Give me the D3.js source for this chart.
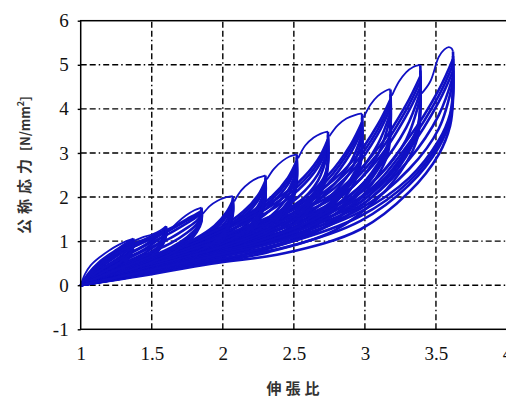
<!DOCTYPE html>
<html>
<head>
<meta charset="utf-8">
<script src="https://cdn.jsdelivr.net/npm/d3@7"></script>
<style>
  body { margin: 0; background: #fff; }
  svg { display: block; }
</style>
</head>
<body>
<div id="chart"></div>
<script>
// axis ticks
const stretchTicks = [1, 1.5, 2, 2.5, 3, 3.5, 4];
const stressTicks = [-1, 0, 1, 2, 3, 4, 5, 6];

// first loading (virgin curve + arc up to each new max stretch), [stretch, stress]
const loadArcs = [
  [[1.00,0],[1.03,0.25],[1.07,0.45],[1.136,0.64],[1.20,0.79],[1.27,0.92],[1.33,1.01],[1.37,1.06]],
  [[1.37,1.00],[1.43,1.08],[1.50,1.15],[1.56,1.24],[1.59,1.31],[1.60,1.34]],
  [[1.62,1.22],[1.68,1.42],[1.74,1.58],[1.80,1.70],[1.84,1.75],[1.85,1.76]],
  [[1.86,1.62],[1.91,1.80],[1.96,1.91],[2.01,1.98],[2.05,2.01],[2.07,2.02]],
  [[2.08,1.90],[2.13,2.15],[2.19,2.33],[2.25,2.44],[2.29,2.48],[2.30,2.49]],
  [[2.31,2.40],[2.36,2.64],[2.42,2.82],[2.47,2.92],[2.51,2.96],[2.52,2.97]],
  [[2.53,2.88],[2.58,3.17],[2.64,3.35],[2.69,3.44],[2.73,3.48],[2.74,3.48]],
  [[2.75,3.38],[2.81,3.63],[2.87,3.78],[2.93,3.86],[2.97,3.89],[2.98,3.89]],
  [[2.99,3.80],[3.04,4.10],[3.09,4.29],[3.14,4.40],[3.17,4.44],[3.18,4.44]],
  [[3.19,4.30],[3.24,4.62],[3.29,4.83],[3.34,4.95],[3.38,4.99],[3.39,4.99]],
  [[3.40,4.35],[3.46,4.62],[3.52,5.18],[3.56,5.35],[3.59,5.40],[3.61,5.37],[3.62,5.30]]
];

// unloading, 1st cycle of each level
const unloadA = [
  [[1.37,1.06],[1.37,0.91],[1.355,0.78],[1.326,0.66],[1.278,0.52],[1.204,0.37],[1.13,0.24],[1.056,0.11],[1,0]],
  [[1.60,1.34],[1.60,1.15],[1.576,0.99],[1.528,0.83],[1.45,0.66],[1.33,0.47],[1.21,0.31],[1.09,0.13],[1,0]],
  [[1.85,1.76],[1.85,1.51],[1.816,1.30],[1.748,1.09],[1.638,0.86],[1.468,0.62],[1.298,0.40],[1.128,0.18],[1,0]],
  [[2.07,2.02],[2.07,1.66],[2.05,1.45],[2.027,1.29],[1.942,0.99],[1.803,0.73],[1.589,0.48],[1.375,0.30],[1.161,0.12],[1,0]],
  [[2.30,2.49],[2.30,2.04],[2.28,1.79],[2.248,1.59],[2.144,1.22],[1.975,0.90],[1.715,0.60],[1.455,0.37],[1.195,0.15],[1,0]],
  [[2.52,2.97],[2.52,2.44],[2.50,2.14],[2.459,1.90],[2.338,1.46],[2.14,1.07],[1.836,0.71],[1.532,0.45],[1.228,0.18],[1,0]],
  [[2.74,3.48],[2.74,2.85],[2.72,2.51],[2.67,2.23],[2.531,1.71],[2.305,1.25],[1.957,0.84],[1.609,0.52],[1.261,0.21],[1,0]],
  [[2.98,3.89],[2.98,3.19],[2.96,2.80],[2.90,2.41],[2.74,1.83],[2.49,1.30],[2.09,0.84],[1.69,0.53],[1.30,0.21],[1,0]],
  [[3.18,4.44],[3.18,3.64],[3.16,3.20],[3.09,2.75],[2.92,2.09],[2.64,1.49],[2.20,0.95],[1.76,0.60],[1.33,0.24],[1,0]],
  [[3.39,4.99],[3.39,4.09],[3.37,3.59],[3.29,3.07],[3.10,2.30],[2.79,1.60],[2.32,1.00],[1.84,0.63],[1.36,0.26],[1,0]],
  [[3.62,5.30],[3.62,4.43],[3.60,3.89],[3.52,3.29],[3.31,2.43],[2.97,1.67],[2.44,1.03],[1.92,0.65],[1.39,0.27],[1,0]]
];

// unloading, 2nd cycle
const unloadB = [
  [[1.37,1.02],[1.37,0.89],[1.355,0.75],[1.326,0.61],[1.278,0.48],[1.204,0.33],[1.13,0.21],[1.056,0.09],[1,0]],
  [[1.60,1.29],[1.60,1.13],[1.576,0.95],[1.528,0.78],[1.45,0.60],[1.33,0.42],[1.21,0.27],[1.09,0.11],[1,0]],
  [[1.85,1.69],[1.85,1.48],[1.816,1.25],[1.748,1.02],[1.638,0.79],[1.468,0.55],[1.298,0.35],[1.128,0.15],[1,0]],
  [[2.07,1.92],[2.07,1.62],[2.05,1.41],[2.027,1.21],[1.942,0.91],[1.803,0.66],[1.589,0.42],[1.375,0.26],[1.161,0.10],[1,0]],
  [[2.30,2.37],[2.30,1.99],[2.28,1.74],[2.248,1.49],[2.144,1.12],[1.975,0.81],[1.715,0.52],[1.455,0.32],[1.195,0.12],[1,0]],
  [[2.52,2.82],[2.52,2.38],[2.50,2.08],[2.459,1.78],[2.338,1.34],[2.14,0.97],[1.836,0.62],[1.532,0.39],[1.228,0.15],[1,0]],
  [[2.74,3.31],[2.74,2.78],[2.72,2.43],[2.67,2.09],[2.531,1.57],[2.305,1.13],[1.957,0.73],[1.609,0.45],[1.261,0.17],[1,0]],
  [[2.98,3.70],[2.98,3.11],[2.96,2.70],[2.90,2.30],[2.74,1.71],[2.49,1.17],[2.09,0.74],[1.69,0.47],[1.30,0.19],[1,0]],
  [[3.18,4.22],[3.18,3.55],[3.16,3.09],[3.09,2.62],[2.92,1.95],[2.64,1.33],[2.20,0.84],[1.76,0.53],[1.33,0.21],[1,0]],
  [[3.39,4.74],[3.39,3.99],[3.37,3.47],[3.29,2.92],[3.10,2.15],[2.79,1.42],[2.32,0.87],[1.84,0.56],[1.36,0.22],[1,0]],
  [[3.62,5.13],[3.62,4.32],[3.60,3.75],[3.52,3.13],[3.31,2.27],[2.97,1.46],[2.44,0.86],[1.92,0.57],[1.39,0.23],[1,0]]
];

// unloading, 3rd cycle
const unloadC = [
  [[1.37,0.99],[1.37,0.87],[1.355,0.72],[1.326,0.57],[1.278,0.43],[1.204,0.29],[1.13,0.18],[1.056,0.07],[1,0]],
  [[1.60,1.25],[1.60,1.10],[1.576,0.91],[1.528,0.72],[1.45,0.55],[1.33,0.36],[1.21,0.23],[1.09,0.09],[1,0]],
  [[1.85,1.64],[1.85,1.44],[1.816,1.20],[1.748,0.95],[1.638,0.72],[1.468,0.48],[1.298,0.30],[1.128,0.12],[1,0]],
  [[2.07,1.84],[2.07,1.58],[2.05,1.35],[2.027,1.15],[1.942,0.85],[1.803,0.59],[1.589,0.36],[1.375,0.22],[1.161,0.09],[1,0]],
  [[2.30,2.27],[2.30,1.94],[2.28,1.67],[2.248,1.42],[2.144,1.05],[1.975,0.72],[1.715,0.45],[1.455,0.27],[1.195,0.11],[1,0]],
  [[2.52,2.70],[2.52,2.32],[2.50,1.99],[2.459,1.69],[2.338,1.25],[2.14,0.86],[1.836,0.53],[1.532,0.33],[1.228,0.13],[1,0]],
  [[2.74,3.17],[2.74,2.71],[2.72,2.33],[2.67,1.98],[2.531,1.46],[2.305,1.01],[1.957,0.63],[1.609,0.38],[1.261,0.16],[1,0]],
  [[2.98,3.52],[2.98,3.03],[2.96,2.61],[2.90,2.18],[2.74,1.59],[2.49,1.03],[2.09,0.64],[1.69,0.39],[1.30,0.16],[1,0]],
  [[3.18,4.02],[3.18,3.46],[3.16,2.97],[3.09,2.49],[2.92,1.82],[2.64,1.18],[2.20,0.73],[1.76,0.44],[1.33,0.18],[1,0]],
  [[3.39,4.49],[3.39,3.89],[3.37,3.34],[3.29,2.77],[3.10,2.00],[2.79,1.25],[2.32,0.75],[1.84,0.47],[1.36,0.19],[1,0]],
  [[3.62,4.86],[3.62,4.21],[3.60,3.62],[3.52,2.97],[3.31,2.11],[2.97,1.27],[2.44,0.73],[1.92,0.49],[1.39,0.19],[1,0]]
];

// unloading, 4th cycle
const unloadD = [
  [[1.37,1.04],[1.37,0.90],[1.355,0.77],[1.326,0.64],[1.278,0.50],[1.204,0.35],[1.13,0.23],[1.056,0.10],[1,0]],
  [[1.60,1.32],[1.60,1.14],[1.576,0.97],[1.528,0.81],[1.45,0.63],[1.33,0.45],[1.21,0.29],[1.09,0.12],[1,0]],
  [[1.85,1.73],[1.85,1.50],[1.816,1.28],[1.748,1.06],[1.638,0.83],[1.468,0.59],[1.298,0.38],[1.128,0.17],[1,0]],
  [[2.07,1.97],[2.07,1.64],[2.05,1.43],[2.027,1.25],[1.942,0.95],[1.803,0.70],[1.589,0.45],[1.375,0.28],[1.161,0.11],[1,0]],
  [[2.30,2.43],[2.30,2.02],[2.28,1.77],[2.248,1.54],[2.144,1.17],[1.975,0.86],[1.715,0.56],[1.455,0.35],[1.195,0.14],[1,0]],
  [[2.52,2.90],[2.52,2.41],[2.50,2.11],[2.459,1.84],[2.338,1.40],[2.14,1.02],[1.836,0.67],[1.532,0.42],[1.228,0.17],[1,0]],
  [[2.74,3.40],[2.74,2.82],[2.72,2.47],[2.67,2.16],[2.531,1.64],[2.305,1.19],[1.957,0.79],[1.609,0.49],[1.261,0.19],[1,0]],
  [[2.98,3.80],[2.98,3.15],[2.96,2.75],[2.90,2.36],[2.74,1.77],[2.49,1.24],[2.09,0.79],[1.69,0.50],[1.30,0.20],[1,0]],
  [[3.18,4.33],[3.18,3.60],[3.16,3.15],[3.09,2.69],[2.92,2.02],[2.64,1.41],[2.20,0.90],[1.76,0.57],[1.33,0.23],[1,0]],
  [[3.39,4.87],[3.39,4.04],[3.37,3.53],[3.29,3.00],[3.10,2.23],[2.79,1.51],[2.32,0.94],[1.84,0.60],[1.36,0.24],[1,0]],
  [[3.62,5.20],[3.62,4.38],[3.60,3.82],[3.52,3.21],[3.31,2.35],[2.97,1.57],[2.44,0.95],[1.92,0.61],[1.39,0.25],[1,0]]
];

// reloading, 2nd cycle
const reloadB = [
  [[1,0],[1.056,0.27],[1.13,0.52],[1.204,0.70],[1.278,0.86],[1.326,0.96],[1.355,1.01],[1.37,1.02]],
  [[1,0],[1.09,0.36],[1.21,0.66],[1.33,0.88],[1.45,1.04],[1.528,1.15],[1.576,1.23],[1.60,1.29]],
  [[1,0],[1.128,0.45],[1.298,0.80],[1.468,1.05],[1.638,1.30],[1.748,1.50],[1.816,1.62],[1.85,1.69]],
  [[1,0],[1.161,0.18],[1.375,0.44],[1.589,0.73],[1.803,1.05],[1.942,1.35],[2.027,1.66],[2.07,1.92]],
  [[1,0],[1.195,0.22],[1.455,0.55],[1.715,0.90],[1.975,1.29],[2.144,1.67],[2.248,2.04],[2.30,2.37]],
  [[1,0],[1.228,0.27],[1.532,0.65],[1.836,1.07],[2.14,1.54],[2.338,1.99],[2.459,2.44],[2.52,2.82]],
  [[1,0],[1.261,0.31],[1.609,0.77],[1.957,1.25],[2.305,1.81],[2.531,2.33],[2.67,2.85],[2.74,3.31]],
  [[1,0],[1.30,0.31],[1.69,0.74],[2.09,1.21],[2.49,1.79],[2.74,2.49],[2.90,3.19],[2.98,3.70]],
  [[1,0],[1.33,0.36],[1.76,0.84],[2.20,1.38],[2.64,2.04],[2.92,2.84],[3.09,3.64],[3.18,4.22]],
  [[1,0],[1.36,0.37],[1.84,0.87],[2.32,1.42],[2.79,2.10],[3.10,3.14],[3.29,4.09],[3.39,4.74]],
  [[1,0],[1.39,0.38],[1.92,0.86],[2.44,1.40],[2.97,2.11],[3.31,3.35],[3.52,4.43],[3.62,5.13]]
];

// reloading, 3rd cycle
const reloadC = [
  [[1,0],[1.056,0.19],[1.13,0.38],[1.204,0.55],[1.278,0.72],[1.326,0.85],[1.355,0.93],[1.37,0.99]],
  [[1,0],[1.09,0.24],[1.21,0.48],[1.33,0.70],[1.45,0.91],[1.528,1.07],[1.576,1.18],[1.60,1.25]],
  [[1,0],[1.128,0.32],[1.298,0.63],[1.468,0.92],[1.638,1.20],[1.748,1.41],[1.816,1.55],[1.85,1.64]],
  [[1,0],[1.161,0.15],[1.375,0.38],[1.589,0.65],[1.803,0.95],[1.942,1.25],[2.027,1.56],[2.07,1.84]],
  [[1,0],[1.195,0.19],[1.455,0.47],[1.715,0.80],[1.975,1.17],[2.144,1.54],[2.248,1.92],[2.30,2.27]],
  [[1,0],[1.228,0.22],[1.532,0.56],[1.836,0.95],[2.14,1.40],[2.338,1.84],[2.459,2.29],[2.52,2.70]],
  [[1,0],[1.261,0.26],[1.609,0.66],[1.957,1.11],[2.305,1.64],[2.531,2.16],[2.67,2.68],[2.74,3.17]],
  [[1,0],[1.30,0.26],[1.69,0.64],[2.09,1.09],[2.49,1.63],[2.74,2.30],[2.90,3.00],[2.98,3.52]],
  [[1,0],[1.33,0.30],[1.76,0.73],[2.20,1.24],[2.64,1.86],[2.92,2.62],[3.09,3.42],[3.18,4.02]],
  [[1,0],[1.36,0.31],[1.84,0.75],[2.32,1.27],[2.79,1.92],[3.10,2.89],[3.29,3.84],[3.39,4.49]],
  [[1,0],[1.39,0.32],[1.92,0.76],[2.44,1.24],[2.97,1.89],[3.31,3.08],[3.52,4.16],[3.62,4.86]]
];

// reloading, 4th cycle
const reloadD = [
  [[1,0],[1.056,0.24],[1.13,0.48],[1.204,0.65],[1.278,0.81],[1.326,0.92],[1.355,0.98],[1.37,1.00]],
  [[1,0],[1.09,0.32],[1.21,0.60],[1.33,0.82],[1.45,0.99],[1.528,1.12],[1.576,1.21],[1.60,1.27]],
  [[1,0],[1.128,0.40],[1.298,0.75],[1.468,1.01],[1.638,1.27],[1.748,1.47],[1.816,1.59],[1.85,1.67]],
  [[1,0],[1.161,0.17],[1.375,0.41],[1.589,0.69],[1.803,1.00],[1.942,1.30],[2.027,1.61],[2.07,1.88]],
  [[1,0],[1.195,0.21],[1.455,0.51],[1.715,0.85],[1.975,1.23],[2.144,1.61],[2.248,1.98],[2.30,2.32]],
  [[1,0],[1.228,0.25],[1.532,0.61],[1.836,1.01],[2.14,1.47],[2.338,1.92],[2.459,2.37],[2.52,2.76]],
  [[1,0],[1.261,0.29],[1.609,0.72],[1.957,1.18],[2.305,1.73],[2.531,2.25],[2.67,2.77],[2.74,3.24]],
  [[1,0],[1.30,0.29],[1.69,0.69],[2.09,1.15],[2.49,1.71],[2.74,2.40],[2.90,3.10],[2.98,3.61]],
  [[1,0],[1.33,0.33],[1.76,0.79],[2.20,1.31],[2.64,1.95],[2.92,2.73],[3.09,3.53],[3.18,4.12]],
  [[1,0],[1.36,0.34],[1.84,0.81],[2.32,1.35],[2.79,2.01],[3.10,3.02],[3.29,3.97],[3.39,4.62]],
  [[1,0],[1.39,0.35],[1.92,0.81],[2.44,1.32],[2.97,2.00],[3.31,3.22],[3.52,4.30],[3.62,5.00]]
];

// reloading, 5th cycle
const reloadE = [
  [[1,0],[1.056,0.16],[1.13,0.33],[1.204,0.49],[1.278,0.65],[1.326,0.78],[1.355,0.88],[1.37,0.96]],
  [[1,0],[1.09,0.20],[1.21,0.42],[1.33,0.62],[1.45,0.82],[1.528,0.99],[1.576,1.11],[1.60,1.22]],
  [[1,0],[1.128,0.27],[1.298,0.55],[1.468,0.82],[1.638,1.08],[1.748,1.30],[1.816,1.46],[1.85,1.60]],
  [[1,0],[1.161,0.14],[1.375,0.35],[1.589,0.59],[1.803,0.87],[1.942,1.16],[2.027,1.47],[2.07,1.79]],
  [[1,0],[1.195,0.18],[1.455,0.43],[1.715,0.73],[1.975,1.08],[2.144,1.43],[2.248,1.80],[2.30,2.21]],
  [[1,0],[1.228,0.21],[1.532,0.52],[1.836,0.87],[2.14,1.28],[2.338,1.71],[2.459,2.15],[2.52,2.63]],
  [[1,0],[1.261,0.24],[1.609,0.61],[1.957,1.02],[2.305,1.50],[2.531,2.00],[2.67,2.52],[2.74,3.09]],
  [[1,0],[1.30,0.24],[1.69,0.60],[2.09,1.00],[2.49,1.51],[2.74,2.14],[2.90,2.79],[2.98,3.43]],
  [[1,0],[1.33,0.28],[1.76,0.68],[2.20,1.14],[2.64,1.73],[2.92,2.43],[3.09,3.19],[3.18,3.92]],
  [[1,0],[1.36,0.29],[1.84,0.71],[2.32,1.18],[2.79,1.81],[3.10,2.68],[3.29,3.57],[3.39,4.38]],
  [[1,0],[1.39,0.30],[1.92,0.72],[2.44,1.17],[2.97,1.81],[3.31,2.85],[3.52,3.86],[3.62,4.74]]
];

// reloading, 6th cycle
const reloadF = [
  [[1,0],[1.056,0.13],[1.13,0.28],[1.204,0.42],[1.278,0.58],[1.326,0.72],[1.355,0.83],[1.37,0.94]],
  [[1,0],[1.09,0.16],[1.21,0.36],[1.33,0.54],[1.45,0.73],[1.528,0.90],[1.576,1.05],[1.60,1.19]],
  [[1,0],[1.128,0.22],[1.298,0.47],[1.468,0.71],[1.638,0.96],[1.748,1.19],[1.816,1.38],[1.85,1.56]],
  [[1,0],[1.161,0.13],[1.375,0.32],[1.589,0.53],[1.803,0.80],[1.942,1.07],[2.027,1.37],[2.07,1.74]],
  [[1,0],[1.195,0.16],[1.455,0.40],[1.715,0.66],[1.975,0.98],[2.144,1.32],[2.248,1.69],[2.30,2.15]],
  [[1,0],[1.228,0.19],[1.532,0.48],[1.836,0.78],[2.14,1.17],[2.338,1.57],[2.459,2.02],[2.52,2.56]],
  [[1,0],[1.261,0.23],[1.609,0.56],[1.957,0.92],[2.305,1.37],[2.531,1.85],[2.67,2.37],[2.74,3.01]],
  [[1,0],[1.30,0.23],[1.69,0.56],[2.09,0.92],[2.49,1.40],[2.74,1.97],[2.90,2.59],[2.98,3.34]],
  [[1,0],[1.33,0.26],[1.76,0.64],[2.20,1.04],[2.64,1.60],[2.92,2.25],[3.09,2.95],[3.18,3.82]],
  [[1,0],[1.36,0.28],[1.84,0.67],[2.32,1.08],[2.79,1.70],[3.10,2.48],[3.29,3.30],[3.39,4.26]],
  [[1,0],[1.39,0.28],[1.92,0.68],[2.44,1.09],[2.97,1.74],[3.31,2.63],[3.52,3.55],[3.62,4.62]]
];

const width = 506, height = 399;
const svg = d3.select('#chart').append('svg')
    .attr('width', width)
    .attr('height', height);

const x = d3.scaleLinear().domain([1, 4]).range([80.7, 507]);
const y = d3.scaleLinear().domain([-1, 6]).range([329.3, 20.7]);

// dash-dot grid
const grid = svg.append('g')
    .attr('stroke', '#000')
    .attr('stroke-width', 1.4)
    .attr('stroke-dasharray', '6,3,6,3,1.5,3');
grid.selectAll('.hgrid')
    .data(stressTicks.slice(1, -1))
    .enter().append('line')
    .attr('class', 'hgrid')
    .attr('x1', x(1)).attr('x2', x(4))
    .attr('y1', d => y(d)).attr('y2', d => y(d));
grid.selectAll('.vgrid')
    .data(stretchTicks.slice(1, -1))
    .enter().append('line')
    .attr('class', 'vgrid')
    .attr('y1', y(-1)).attr('y2', y(6))
    .attr('x1', d => x(d)).attr('x2', d => x(d));

// curves
const line = d3.line()
    .x(d => x(d[0]))
    .y(d => y(d[1]))
    .curve(d3.curveCatmullRom.alpha(0.5));

const cycles = [].concat(reloadF, reloadE, reloadC, reloadD, reloadB, unloadC, unloadB, unloadD, unloadA);
const curveG = svg.append('g')
    .attr('fill', 'none')
    .attr('stroke', '#1010c4')
    .attr('stroke-linejoin', 'round');
curveG.selectAll('.cycle')
    .data(cycles)
    .enter().append('path')
    .attr('class', 'cycle')
    .attr('d', line)
    .attr('stroke-width', 2.6);
curveG.selectAll('.arc')
    .data(loadArcs)
    .enter().append('path')
    .attr('class', 'arc')
    .attr('d', line)
    .attr('stroke-width', 1.8);

// frame
svg.append('rect')
    .attr('x', x(1)).attr('y', y(6))
    .attr('width', x(4) - x(1))
    .attr('height', y(-1) - y(6))
    .attr('fill', 'none')
    .attr('stroke', '#000')
    .attr('stroke-width', 1.5);

// axes
const serif = '"Liberation Serif", "Times New Roman", serif';
const yAxis = svg.append('g')
    .attr('transform', `translate(${x(1)},0)`)
    .call(d3.axisLeft(y).tickValues(stressTicks).tickSize(3).tickPadding(9).tickFormat(d => String(d)));
const xAxis = svg.append('g')
    .attr('transform', `translate(0,${y(-1)})`)
    .call(d3.axisBottom(x).tickValues(stretchTicks).tickSize(0).tickPadding(17).tickFormat(d => String(d)));
[yAxis, xAxis].forEach(g => {
    g.attr('font-family', serif).attr('font-size', 19);
    g.select('.domain').remove();
    g.selectAll('line').attr('stroke', '#000').attr('stroke-width', 1.4);
    g.selectAll('text')
        .attr('fill', '#111')
        .style('font-family', serif)
        .style('font-size', '19px');
});

// axis titles
svg.append('text')
    .attr('x', 295).attr('y', 394)
    .attr('text-anchor', 'middle')
    .style('font-family', '"Noto Sans CJK JP", sans-serif')
    .style('font-size', '15px')
    .style('font-weight', 'bold')
    .style('letter-spacing', '4px')
    .attr('fill', '#333')
    .text('伸張比');

const yTitle = svg.append('text')
    .attr('transform', 'translate(30,165) rotate(-90)')
    .attr('text-anchor', 'middle')
    .style('font-family', '"Noto Sans CJK JP", sans-serif')
    .style('font-weight', 'bold')
    .attr('fill', '#333');
yTitle.append('tspan').style('font-size', '15px').style('letter-spacing', '5px').text('公称応力');
yTitle.append('tspan').style('font-size', '13px').text(' [N/mm');
yTitle.append('tspan').style('font-size', '9px').attr('dy', -6).text('2');
yTitle.append('tspan').style('font-size', '13px').attr('dy', 6).text(']');
</script>
</body>
</html>
